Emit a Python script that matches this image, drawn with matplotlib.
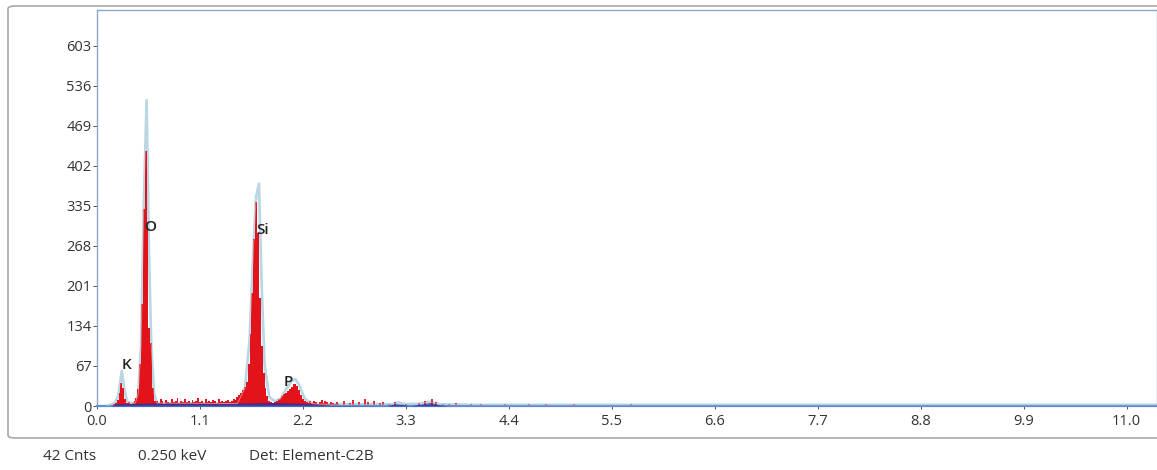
import numpy as np
import matplotlib.pyplot as plt
from matplotlib.patches import FancyBboxPatch

plt.rcParams['font.family'] = ['Open Sans', 'DejaVu Sans']

# measured spectrum, 0.02 keV channels from 0.10 to 2.60 keV
chan_start = 0.10
chan_width = 0.02
counts = [
    0, 0, 1, 2, 3, 5, 10, 22, 39, 30,           # 0.10 - 0.28
    12, 5, 6, 4, 5, 8, 14, 28, 70, 170,         # 0.30 - 0.48
    330, 427, 300, 130, 105, 30, 8, 9, 5, 12,   # 0.50 - 0.68
    8, 4, 10, 7, 5, 11, 6, 8, 13, 5,           # 0.70 - 0.88
    9, 7, 12, 6, 8, 5, 10, 7, 9, 14,           # 0.90 - 1.08
    6, 8, 5, 11, 7, 9, 6, 10, 8, 5,            # 1.10 - 1.28
    12, 7, 9, 6, 8, 10, 7, 9, 12, 10,          # 1.30 - 1.48
    15, 18, 22, 26, 32, 40, 70, 120, 190, 280, # 1.50 - 1.68
    341, 290, 180, 100, 55, 30, 16, 9, 6, 5,   # 1.70 - 1.88
    7, 9, 12, 14, 17, 20, 22, 25, 28, 32,      # 1.90 - 2.08
    36, 37, 33, 26, 18, 12, 9, 7, 5, 8,        # 2.10 - 2.28
    5, 9, 6, 4, 7, 10, 5, 8, 6, 4,             # 2.30 - 2.48
    7, 5, 3, 6, 3, 0,                          # 2.50 - 2.60
]
energy = chan_start + chan_width * np.arange(len(counts))

# isolated noise counts at higher energies
spike_energy = [2.64, 2.70, 2.74, 2.80, 2.86, 2.90, 2.96, 3.02, 3.06, 3.12,
                3.18, 3.30, 3.44, 3.50, 3.58, 3.62, 3.70, 3.76, 3.84, 3.92,
                4.00, 4.10, 4.22, 4.36, 4.50, 4.62, 4.80, 4.94, 5.10, 5.30,
                5.52, 5.70, 5.86, 6.10, 6.40, 6.62, 6.90, 7.20, 7.50, 7.80,
                8.10, 8.46, 8.80, 9.14, 9.50, 9.90, 10.30, 10.70, 11.10]
spike_counts = [8, 5, 10, 7, 12, 6, 9, 5, 7, 4,
                6, 3, 5, 8, 12, 6, 4, 3, 5, 2,
                3, 4, 2, 3, 2, 4, 3, 2, 3, 2,
                2, 3, 1, 2, 2, 1, 2, 1, 2, 1,
                1, 2, 1, 1, 2, 1, 1, 1, 1]

# fitted spectrum
fit_energy = [0.10, 0.17, 0.20, 0.23, 0.265, 0.29, 0.32, 0.36, 0.41, 0.44,
              0.47, 0.50, 0.53, 0.555, 0.58, 0.61, 0.64, 1.50, 1.58, 1.63,
              1.67, 1.70, 1.73, 1.76, 1.79, 1.84, 1.90, 1.96, 2.02, 2.08,
              2.12, 2.16, 2.22, 2.30, 2.40, 3.15, 3.22, 3.30, 3.45, 3.56,
              3.66, 4.00, 11.40]
fit_counts = [0, 3, 6, 20, 59, 30, 8, 4, 5, 20,
              100, 340, 512, 260, 100, 20, 5, 4, 30, 110,
              260, 350, 372, 200, 70, 15, 8, 12, 28, 42,
              45, 35, 12, 4, 3, 3, 6, 3, 4, 7,
              3, 2, 2]

# background estimate
bg_energy = [0.15, 0.20, 0.60, 1.00, 1.50, 1.90, 2.30, 2.50, 3.10, 3.18,
             3.26, 3.34, 3.45, 3.56, 3.66, 3.75]
bg_counts = [0, 4, 5, 5, 5, 6, 4, 1, 0, 4, 3, 0, 3, 6, 2, 0]

peak_names = ['K', 'O', 'Si', 'P']
peak_x = [0.32, 0.57, 1.77, 2.04]
peak_y = [69, 300, 295, 40]

yticks = [0, 67, 134, 201, 268, 335, 402, 469, 536, 603]
xticks = [0.0, 1.1, 2.2, 3.3, 4.4, 5.5, 6.6, 7.7, 8.8, 9.9, 11.0]

fig = plt.figure(figsize=(11.57, 4.70), dpi=100)

# panel frame
frame = FancyBboxPatch((8 / 1157, 1 - 438 / 470), 1.2, (438 - 6) / 470,
                       boxstyle='round,pad=0,rounding_size=0.006',
                       transform=fig.transFigure, facecolor='none',
                       edgecolor='#a8a8a8', linewidth=1.2, zorder=-1)
fig.patches.append(frame)

ax = fig.add_axes([97 / 1157, 1 - 406 / 470, 1 - 97 / 1157, (406 - 10) / 470])
ax.set_xlim(0, (1157 - 97) / 93.6)
ax.set_ylim(0, 663)

ax.plot(fit_energy, fit_counts, color='#a6dbee', linewidth=1.9, zorder=1)
ax.fill_between(energy, counts, step='mid', color='#e3131b', linewidth=0, zorder=2)
ax.vlines(spike_energy, 0, spike_counts, color='#e3131b', linewidth=1.3, zorder=2)
ax.fill_between(bg_energy, bg_counts, color='#2b2b9c', alpha=0.75, linewidth=0, zorder=3)
ax.plot(fit_energy, fit_counts, color='#f0c8c8', linewidth=0.7, alpha=0.6, zorder=4)

for name, x, y in zip(peak_names, peak_x, peak_y):
    ax.text(x, y, name, fontsize=11, fontweight='semibold', color='#222222',
            ha='center', va='center', zorder=5)

ax.set_xticks(xticks)
ax.set_xticklabels([f'{t:.1f}' for t in xticks])
ax.set_yticks(yticks)
ax.tick_params(axis='both', labelsize=10.5, colors='#333333', length=3, width=0.6, pad=1)
ax.tick_params(axis='x', length=2, pad=4)

for side in ['left', 'top', 'right']:
    ax.spines[side].set_color('#8aa6c8')
    ax.spines[side].set_linewidth(1.0)
ax.spines['bottom'].set_color('#5b8fd2')
ax.spines['bottom'].set_linewidth(1.6)

# status line below the chart
status_y = 1 - 457 / 470
fig.text(70 / 1157, status_y, '42 Cnts', fontsize=11, color='#333333', ha='center', va='center')
fig.text(172 / 1157, status_y, '0.250 keV', fontsize=11, color='#333333', ha='center', va='center')
fig.text(311 / 1157, status_y, 'Det: Element-C2B', fontsize=11, color='#333333', ha='center', va='center')

fig.savefig('out.png', dpi=100, facecolor='white')
